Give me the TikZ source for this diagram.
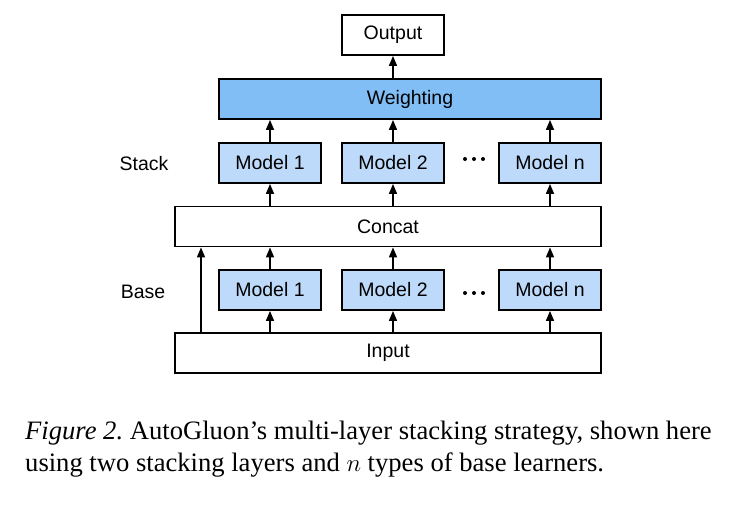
\documentclass[tikz,border=0pt]{standalone}
\usepackage{fontspec}
\setmainfont{Liberation Serif}
\newfontfamily\boxfont{Liberation Sans}
\usetikzlibrary{arrows.meta}
\definecolor{wblue}{RGB}{128,190,245}
\definecolor{mblue}{RGB}{190,218,250}
\begin{document}
\begin{tikzpicture}[x=1pt,y=-1pt,
  box/.style={draw=black,line width=1.8pt,inner sep=0pt,font=\boxfont\fontsize{19.5}{21}\selectfont},
  modelbox/.style={box,fill=mblue,minimum width=102pt,minimum height=40pt},
  widebox/.style={box,fill=white,minimum width=426pt,minimum height=40pt},
  lab/.style={font=\boxfont\fontsize{19.5}{21}\selectfont},
  dot/.style={circle,fill=black,inner sep=0pt,minimum size=4pt},
  arr/.style={-{Triangle[length=10pt,width=8pt]},line width=1.5pt}]
\useasboundingbox (0,0) rectangle (750,512);
\node[box,fill=white,minimum width=102pt,minimum height=40pt] (out) at (393,35) {Output};
\node[box,fill=wblue,minimum width=382pt,minimum height=40pt] (w) at (410,99) {Weighting};
\node[modelbox] (s1) at (270,163) {Model 1};
\node[modelbox] (s2) at (393,163) {Model 2};
\node[modelbox] (sn) at (550,163) {Model n};
\node[dot] (sd1) at (465,159) {};
\node[dot] (sd2) at (474,159) {};
\node[dot] (sd3) at (483,159) {};
\node[widebox] (cc) at (388,226.5) {Concat};
\node[modelbox] (b1) at (270,290) {Model 1};
\node[modelbox] (b2) at (393,290) {Model 2};
\node[modelbox] (bn) at (550,290) {Model n};
\node[dot] (bd1) at (465,293) {};
\node[dot] (bd2) at (474,293) {};
\node[dot] (bd3) at (483,293) {};
\node[widebox] (in) at (388,353) {Input};
\node[lab] (stk) at (144,164) {Stack};
\node[lab] (bas) at (143,292) {Base};
\draw[arr] (w.north -| out) -- (out.south);
\foreach \m in {1,2,n}{
  \draw[arr] (s\m.north) -- (s\m.north |- w.south);
  \draw[arr] (cc.north -| s\m) -- (s\m.south);
  \draw[arr] (b\m.north) -- (b\m.north |- cc.south);
  \draw[arr] (in.north -| b\m) -- (b\m.south);
}
\coordinate (lx) at (201,0);
\draw[arr] (in.north -| lx) -- (cc.south -| lx);
\node[anchor=north west,align=left,inner sep=0pt,font=\fontsize{26.6}{32}\selectfont] (cap) at (25,421)
  {\frenchspacing\textit{Figure 2.} AutoGluon's multi-layer stacking strategy, shown here\\using two stacking layers and $n$ types of base learners.};
\end{tikzpicture}
\end{document}
